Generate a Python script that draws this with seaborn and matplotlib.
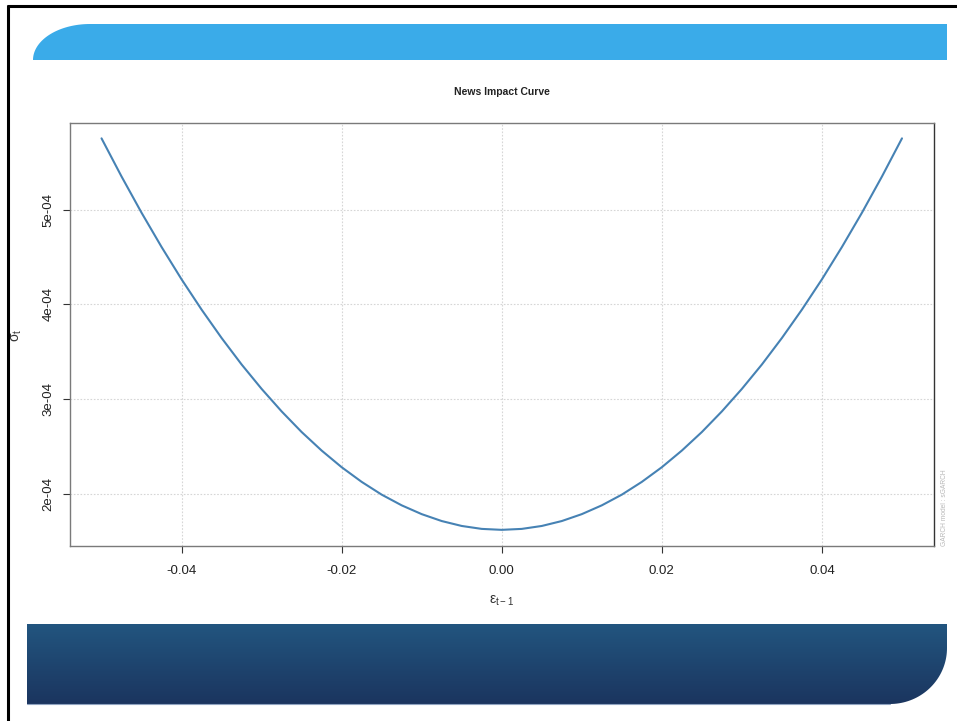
import numpy as np
import pandas as pd
import matplotlib
matplotlib.use("Agg")
import matplotlib.pyplot as plt
import seaborn as sns
from matplotlib.patches import Polygon

# News impact curve values
eps_prev = [-0.0500, -0.0475, -0.0450, -0.0425, -0.0400, -0.0375, -0.0350, -0.0325, -0.0300,
            -0.0275, -0.0250, -0.0225, -0.0200, -0.0175, -0.0150, -0.0125, -0.0100, -0.0075,
            -0.0050, -0.0025, 0.0000, 0.0025, 0.0050, 0.0075, 0.0100, 0.0125, 0.0150, 0.0175,
            0.0200, 0.0225, 0.0250, 0.0275, 0.0300, 0.0325, 0.0350, 0.0375, 0.0400, 0.0425,
            0.0450, 0.0475, 0.0500]
sigma_t = [5.755e-4, 5.352e-4, 4.969e-4, 4.607e-4, 4.265e-4, 3.945e-4, 3.645e-4, 3.365e-4,
           3.107e-4, 2.869e-4, 2.651e-4, 2.455e-4, 2.279e-4, 2.124e-4, 1.989e-4, 1.876e-4,
           1.783e-4, 1.710e-4, 1.658e-4, 1.627e-4, 1.617e-4, 1.627e-4, 1.658e-4, 1.710e-4,
           1.783e-4, 1.876e-4, 1.989e-4, 2.124e-4, 2.279e-4, 2.455e-4, 2.651e-4, 2.869e-4,
           3.107e-4, 3.365e-4, 3.645e-4, 3.945e-4, 4.265e-4, 4.607e-4, 4.969e-4, 5.352e-4,
           5.755e-4]
x_ticks = [-0.04, -0.02, 0.00, 0.02, 0.04]
x_tick_labels = ["-0.04", "-0.02", "0.00", "0.02", "0.04"]
y_ticks = [2e-4, 3e-4, 4e-4, 5e-4]
y_tick_labels = ["2e-04", "3e-04", "4e-04", "5e-04"]

sns.set_style("white")
plt.rcParams['font.family'] = ['Liberation Sans', 'DejaVu Sans']
plt.rcParams['mathtext.fontset'] = 'custom'
plt.rcParams['mathtext.rm'] = 'Liberation Sans'
plt.rcParams['mathtext.default'] = 'regular'

W, H = 957, 721
fig = plt.figure(figsize=(W / 100, H / 100), dpi=100)

# slide decoration drawn in pixel coordinates
bg = fig.add_axes([0, 0, 1, 1], zorder=0)
bg.set_xlim(0, W)
bg.set_ylim(H, 0)
bg.axis("off")

# black frame (left and top)
bg.plot([8, 8], [5, H], color="black", lw=2.2, solid_capstyle="butt")
bg.plot([7, W], [6, 6], color="black", lw=2.2, solid_capstyle="butt")

# top light blue banner with rounded top-left corner
t = np.linspace(np.pi, 1.5 * np.pi, 40)
arc = np.column_stack([90 + 57 * np.cos(t), 60 + 36 * np.sin(t)])
top_pts = np.vstack([arc, [[947, 24], [947, 60], [33, 60]]])
bg.add_patch(Polygon(top_pts, closed=True, facecolor="#3aabe9", edgecolor="none"))

# bottom dark banner with gradient and rounded bottom-right corner
t2 = np.linspace(0, 0.5 * np.pi, 40)
arc2 = np.column_stack([890 + 57 * np.cos(t2), 648 + 56 * np.sin(t2)])
bot_pts = np.vstack([[[27, 624], [947, 624]], arc2, [[27, 704]]])
bot_patch = Polygon(bot_pts, closed=True, facecolor="none", edgecolor="none")
bg.add_patch(bot_patch)
grad = np.linspace(0, 1, 100).reshape(-1, 1)
cmap = matplotlib.colors.LinearSegmentedColormap.from_list("band", ["#22557f", "#1b355f"])
im = bg.imshow(grad, cmap=cmap, extent=[27, 947, 704, 624], aspect="auto", zorder=1)
im.set_clip_path(bot_patch)
bg.plot([27, 890], [704, 704], color="#8fa3c0", lw=0.8)
bg.set_xlim(0, W)
bg.set_ylim(H, 0)

# chart
ax = fig.add_axes([69.5 / W, (H - 545.5) / H, (934 - 69.5) / W, (545.5 - 122.7) / H], zorder=2)
df = pd.DataFrame({"eps": eps_prev, "sigma": sigma_t})
sns.lineplot(data=df, x="eps", y="sigma", ax=ax, color="#4682b4", lw=1.5)

ax.set_xlim(-0.054, 0.054)
ax.set_ylim(1.4515e-4, 5.9205e-4)
ax.set_xticks(x_ticks)
ax.set_xticklabels(x_tick_labels)
ax.set_yticks(y_ticks)
ax.set_yticklabels(y_tick_labels, rotation=90, va="center")
ax.tick_params(axis="both", direction="out", length=5, width=0.8, color="#333333",
               labelsize=9.5, labelcolor="#222222", bottom=True, left=True)
ax.tick_params(axis="x", pad=9)
ax.tick_params(axis="y", pad=6)
ax.grid(True, color="#d6d6d6", linestyle=(0, (1.5, 1.5)), lw=0.8)
for side in ["top", "left", "bottom"]:
    ax.spines[side].set_color("#7a7a7a")
ax.spines["right"].set_color("#333333")
for s in ax.spines.values():
    s.set_linewidth(1.0)
ax.set_xlabel("")
ax.set_ylabel("")

fig.text(502 / W, 1 - 92 / H, "News Impact Curve", ha="center", va="center",
         fontsize=7.5, fontweight="bold", color="#222222")
fig.text(502 / W, 1 - 601 / H, r"$\varepsilon_{t-1}$", ha="center", va="center",
         fontsize=10, color="#333333")
fig.text(17 / W, 1 - 335 / H, r"$\sigma_{t}$", ha="center", va="center",
         fontsize=10, color="#333333", rotation=90)
fig.text(945 / W, 1 - 508 / H, "GARCH model : sGARCH", ha="center", va="center",
         fontsize=4.8, color="#b8b8b8", rotation=90)

fig.savefig("out.png", dpi=100)
